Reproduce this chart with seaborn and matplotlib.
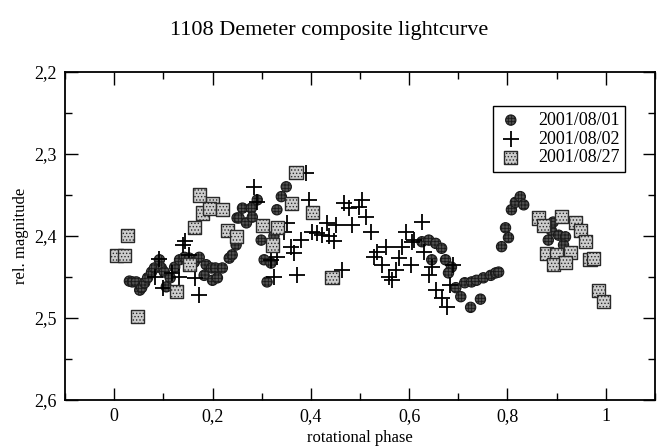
import pandas as pd
import matplotlib
matplotlib.use('Agg')
import matplotlib.pyplot as plt
from matplotlib.ticker import MultipleLocator, FuncFormatter
import seaborn as sns

# Данные: фаза и относительная величина
phase_0801 = [0.031, 0.037, 0.045, 0.052, 0.056, 0.062, 0.068, 0.076, 0.082, 0.092,
              0.096, 0.102, 0.106, 0.114, 0.123, 0.133, 0.143, 0.153, 0.163, 0.173,
              0.183, 0.187, 0.198, 0.200, 0.206, 0.210, 0.220, 0.234, 0.240, 0.248,
              0.250, 0.254, 0.261, 0.269, 0.279, 0.281, 0.291, 0.299, 0.305, 0.319,
              0.311, 0.325, 0.331, 0.340, 0.350,
              0.626, 0.640, 0.654, 0.666, 0.646, 0.674, 0.686, 0.680, 0.695, 0.705,
              0.725, 0.745, 0.713, 0.727, 0.737, 0.751, 0.766, 0.776, 0.782, 0.788,
              0.802, 0.796, 0.808, 0.816, 0.826, 0.833, 0.883, 0.889, 0.893, 0.904,
              0.918, 0.914]
mag_0801 = [2.455, 2.456, 2.456, 2.466, 2.463, 2.457, 2.451, 2.444, 2.439, 2.429,
            2.439, 2.444, 2.462, 2.451, 2.438, 2.429, 2.426, 2.427, 2.432, 2.426,
            2.448, 2.435, 2.439, 2.454, 2.439, 2.451, 2.439, 2.427, 2.423, 2.411,
            2.378, 2.378, 2.366, 2.384, 2.366, 2.377, 2.356, 2.405, 2.429, 2.433,
            2.456, 2.400, 2.368, 2.352, 2.340,
            2.407, 2.405, 2.409, 2.415, 2.429, 2.429, 2.438, 2.445, 2.463, 2.474,
            2.487, 2.477, 2.457, 2.456, 2.454, 2.451, 2.448, 2.445, 2.444, 2.413,
            2.402, 2.390, 2.368, 2.359, 2.352, 2.362, 2.405, 2.393, 2.383, 2.399,
            2.401, 2.411]

phase_0802 = [0.139, 0.145, 0.092, 0.084, 0.100, 0.131, 0.165, 0.173, 0.153, 0.118,
              0.285, 0.291, 0.390, 0.396, 0.352, 0.346, 0.380, 0.360, 0.366, 0.331,
              0.319, 0.325, 0.372, 0.403, 0.413, 0.423, 0.433, 0.451, 0.447, 0.437,
              0.467, 0.477, 0.498, 0.504, 0.484, 0.512, 0.463, 0.522, 0.593, 0.626,
              0.609, 0.585, 0.552, 0.534, 0.528, 0.544, 0.579, 0.603, 0.573, 0.559,
              0.565, 0.630, 0.646, 0.690, 0.640, 0.654, 0.666, 0.676, 0.684, 0.605]
mag_0802 = [2.411, 2.406, 2.428, 2.450, 2.463, 2.450, 2.451, 2.472, 2.423, 2.445,
            2.340, 2.358, 2.323, 2.356, 2.384, 2.395, 2.405, 2.413, 2.421, 2.426,
            2.429, 2.450, 2.448, 2.395, 2.396, 2.399, 2.384, 2.387, 2.406, 2.400,
            2.360, 2.366, 2.365, 2.356, 2.387, 2.377, 2.441, 2.395, 2.395, 2.383,
            2.405, 2.413, 2.413, 2.420, 2.426, 2.435, 2.427, 2.435, 2.441, 2.450,
            2.454, 2.420, 2.438, 2.435, 2.448, 2.466, 2.476, 2.487, 2.460, 2.407]

phase_0827 = [0.005, 0.021, 0.027, 0.047, 0.126, 0.153, 0.163, 0.173, 0.200, 0.180,
              0.194, 0.220, 0.230, 0.248, 0.370, 0.360, 0.403, 0.301, 0.332, 0.322,
              0.443, 0.863, 0.873, 0.910, 0.938, 0.948, 0.958, 0.879, 0.899, 0.928,
              0.893, 0.918, 0.968, 0.975, 0.985, 0.995]
mag_0827 = [2.424, 2.424, 2.399, 2.498, 2.468, 2.435, 2.390, 2.350, 2.360, 2.372,
            2.366, 2.368, 2.393, 2.401, 2.323, 2.360, 2.371, 2.387, 2.390, 2.411,
            2.451, 2.378, 2.387, 2.376, 2.384, 2.393, 2.407, 2.421, 2.423, 2.420,
            2.435, 2.432, 2.429, 2.427, 2.466, 2.480]

dates = ['2001/08/01', '2001/08/02', '2001/08/27']

df = pd.concat([
    pd.DataFrame({'phase': phase_0801, 'mag': mag_0801, 'date': dates[0]}),
    pd.DataFrame({'phase': phase_0802, 'mag': mag_0802, 'date': dates[1]}),
    pd.DataFrame({'phase': phase_0827, 'mag': mag_0827, 'date': dates[2]}),
])

sns.set_theme(style='ticks')
plt.rcParams['font.family'] = ['Liberation Serif', 'DejaVu Serif']
plt.rcParams['text.color'] = 'black'
plt.rcParams['axes.labelcolor'] = 'black'
plt.rcParams['hatch.linewidth'] = 0.6

fig = plt.figure(figsize=(6.58, 4.47), dpi=100)
ax = fig.add_axes([0.0988, 0.1051, 0.8966, 0.7339])

d = df[df['date'] == dates[0]]
sns.scatterplot(data=d, x='phase', y='mag', marker='o', s=55,
                color='#505050', edgecolor='#1a1a1a', linewidth=0.8,
                label=dates[0], ax=ax)
d = df[df['date'] == dates[1]]
sns.scatterplot(data=d, x='phase', y='mag', marker='+', s=130,
                color='black', linewidth=1.3, label=dates[1], ax=ax)
d = df[df['date'] == dates[2]]
sns.scatterplot(data=d, x='phase', y='mag', marker='s', s=90,
                color='#cdcdcd', edgecolor='#2a2a2a', linewidth=1.0,
                label=dates[2], ax=ax)

# Узор точек на маркерах
colls = ax.collections
colls[0].set_hatch('+++++')
colls[2].set_hatch('.....')

ax.set_xlim(-0.1, 1.1)
ax.set_ylim(2.6, 2.2)
ax.xaxis.set_major_locator(MultipleLocator(0.2))
ax.xaxis.set_minor_locator(MultipleLocator(0.1))
ax.yaxis.set_major_locator(MultipleLocator(0.1))
ax.yaxis.set_minor_locator(MultipleLocator(0.05))

fmt = FuncFormatter(lambda v, p: '{:g}'.format(round(v, 2)).replace('.', ','))
ax.xaxis.set_major_formatter(fmt)
ax.yaxis.set_major_formatter(fmt)

ax.tick_params(which='both', direction='in', top=True, right=True, width=1.0,
               colors='black', labelsize=13, pad=6)
ax.tick_params(which='major', length=9)
ax.tick_params(which='minor', length=5)
for sp in ax.spines.values():
    sp.set_linewidth(1.3)
    sp.set_color('black')

ax.set_xlabel('rotational phase', fontsize=12, labelpad=3)
ax.set_ylabel('rel. magnitude', fontsize=12, labelpad=4)
fig.suptitle('1108 Demeter composite lightcurve', fontsize=16, y=0.952,
             color='black')

leg = ax.legend(loc='upper left', bbox_to_anchor=(0.725, 0.895), fontsize=13,
                frameon=True, fancybox=False, framealpha=1, edgecolor='black',
                borderpad=0.3, handletextpad=0.8, labelspacing=0.1,
                handlelength=1.4, borderaxespad=0)
leg.get_frame().set_linewidth(1.0)
for t in leg.get_texts():
    t.set_color('black')

plt.savefig('out.png', dpi=100)
